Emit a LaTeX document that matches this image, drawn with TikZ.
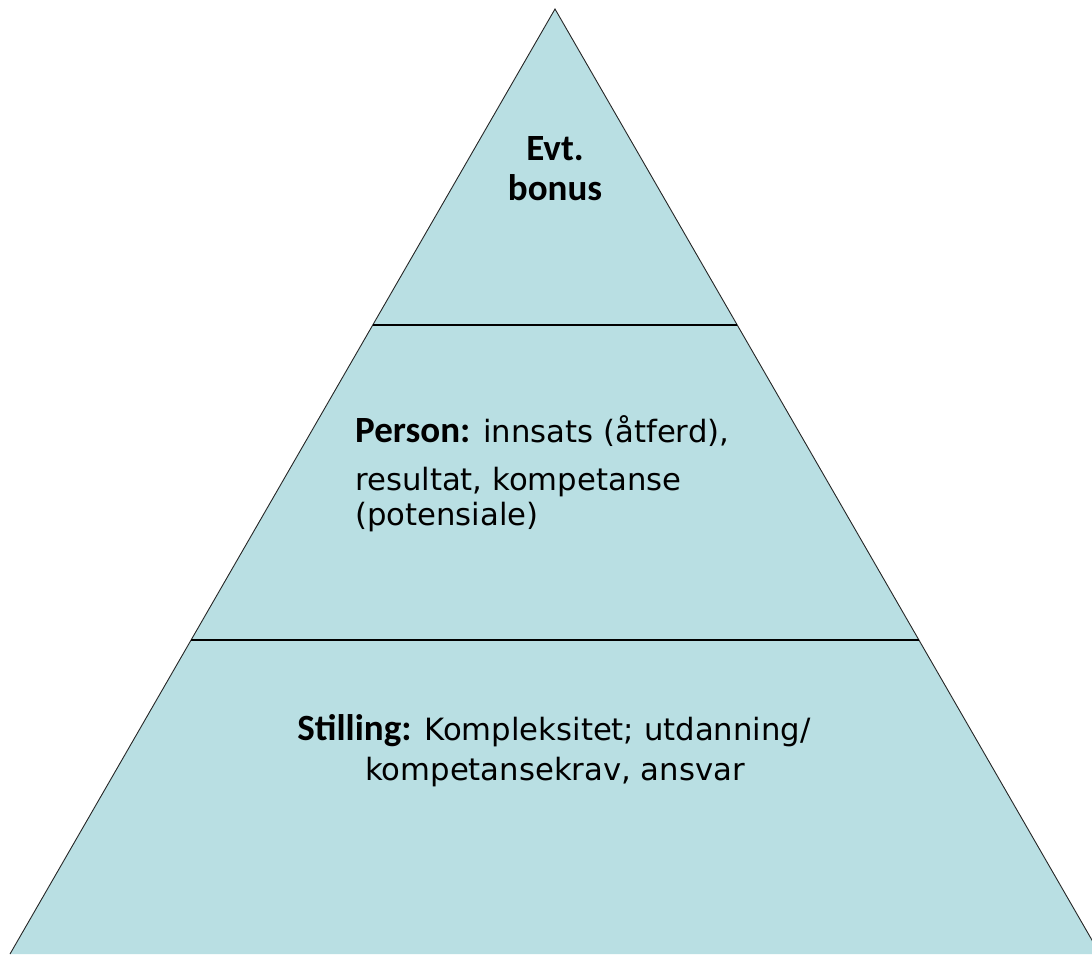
\documentclass[tikz,border=0pt]{standalone}
\usepackage{fontspec}
\setmainfont{DejaVu Sans}
\newfontfamily\boldface{Carlito}[BoldFont={Carlito Bold}]
\definecolor{pyrfill}{RGB}{185,223,227}
\newcommand\lead[1]{{\boldface\bfseries\fontsize{37}{37}\selectfont #1}}
\begin{document}
\begin{tikzpicture}[x=1pt,y=-1pt,
  edge/.style={draw=black!85, line width=0.9pt},
  divider/.style={draw=black, line width=1.8pt},
  label/.style={inner sep=0pt, font=\fontsize{30.7}{36}\selectfont, text=black},
  boldlabel/.style={inner sep=0pt, font=\boldface\bfseries\fontsize{37}{37}\selectfont, text=black}]
\useasboundingbox (0,0) rectangle (1092,954);
\begin{scope}
  \clip (0,0) rectangle (1092,954);
  \coordinate (apex) at (555,9);
  \coordinate (bl) at (10,954);
  \coordinate (br) at (1100,954);
  \fill[pyrfill] (apex) -- (bl) -- (br) -- cycle;
  \draw[edge] (bl) -- (apex) -- (br);
  \coordinate (l1) at (373.2,325);
  \coordinate (r1) at (736.8,325);
  \coordinate (l2) at (191,640);
  \coordinate (r2) at (918.5,640);
  \draw[divider] (l1) -- (r1);
  \draw[divider] (l2) -- (r2);
\end{scope}
% top tier
\node[boldlabel, anchor=base] (top1) at (555,160) {Evt.};
\node[boldlabel, anchor=base] (top2) at (555,200) {bonus};
% middle tier
\node[label, anchor=base west] (mid1) at (355,442) {\lead{Person:} innsats (åtferd),};
\node[label, anchor=base west] (mid2) at (355,490) {resultat, kompetanse};
\node[label, anchor=base west] (mid3) at (355,525) {(potensiale)};
% bottom tier
\node[label, anchor=base] (low1) at (554,740) {\lead{Stilling:} Kompleksitet; utdanning/};
\node[label, anchor=base] (low2) at (555,780) {kompetansekrav, ansvar};
\end{tikzpicture}
\end{document}
